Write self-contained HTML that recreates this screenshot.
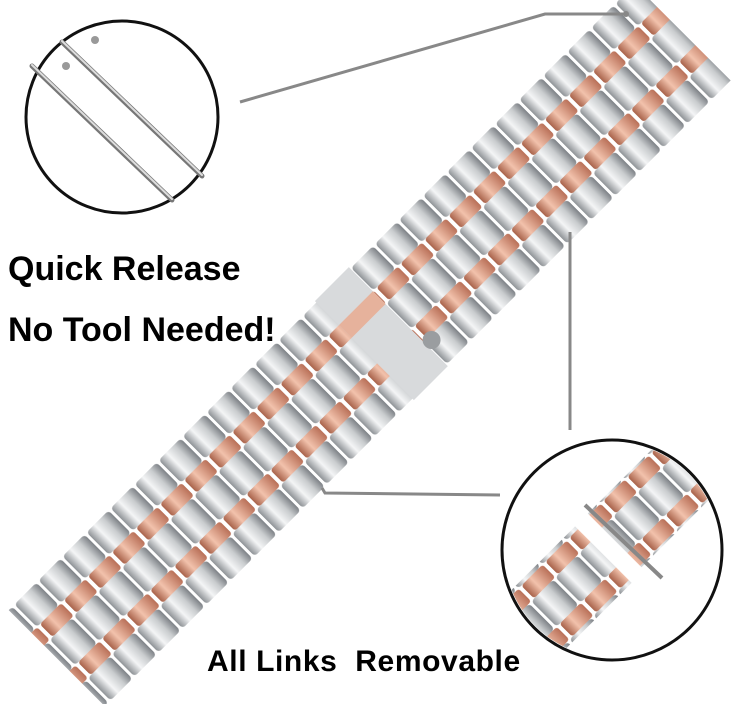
<!DOCTYPE html>
<html><head><meta charset="utf-8"><style>
html,body{margin:0;padding:0;background:#fff;}
body{width:736px;height:704px;overflow:hidden;position:relative;font-family:"Liberation Sans",sans-serif;}
.t{position:absolute;font-weight:bold;color:#000;white-space:nowrap;}
</style></head><body>
<svg width="736" height="704" style="position:absolute;left:0;top:0">
<defs>
<linearGradient id="sil" x1="0" y1="0" x2="1" y2="0">
<stop offset="0" stop-color="#8e9296"/><stop offset="0.35" stop-color="#f4f5f6"/><stop offset="0.7" stop-color="#c9ccce"/><stop offset="1" stop-color="#7d8186"/></linearGradient>
<linearGradient id="ros" x1="0" y1="0" x2="1" y2="0">
<stop offset="0" stop-color="#a8624a"/><stop offset="0.4" stop-color="#f2c2ac"/><stop offset="1" stop-color="#b97058"/></linearGradient>
<pattern id="links" width="34" height="140" patternUnits="userSpaceOnUse" x="0" y="-70">
<rect x="0" y="2" width="31" height="32" rx="4" fill="url(#sil)"/>
<rect x="4" y="34" width="30" height="18" rx="3" fill="url(#ros)"/>
<rect x="0" y="52" width="31" height="36" rx="4" fill="url(#sil)"/>
<rect x="4" y="88" width="30" height="18" rx="3" fill="url(#ros)"/>
<rect x="0" y="106" width="31" height="32" rx="4" fill="url(#sil)"/>
</pattern>
</defs>
<g transform="translate(375,340) rotate(-45)">
<rect x="-450" y="-70" width="885" height="140" fill="url(#links)"/>
<rect x="-15" y="-70" width="48" height="140" fill="#d8dadc"/>
<rect x="-15" y="-36" width="48" height="18" fill="#e6b29c"/>
<circle cx="40" cy="40" r="9" fill="#9a9da0"/>
</g>
<polyline points="240,102 545,14 625,14" fill="none" stroke="#888" stroke-width="3"/>
<circle cx="626" cy="14" r="3" fill="#888"/>
<polyline points="570,232 570,430" fill="none" stroke="#888" stroke-width="3"/>
<polyline points="322,488 325,493 500,495" fill="none" stroke="#888" stroke-width="3"/>
<circle cx="122" cy="117" r="96" fill="#fff" stroke="#111" stroke-width="3"/>
<g stroke="#777" stroke-width="5" stroke-linecap="round">
<line x1="62" y1="42" x2="202" y2="176"/>
<line x1="32" y1="66" x2="172" y2="200"/>
</g>
<g stroke="#ddd" stroke-width="2" stroke-linecap="round">
<line x1="62" y1="41" x2="202" y2="175"/>
<line x1="32" y1="65" x2="172" y2="199"/>
</g>
<circle cx="95" cy="40" r="4" fill="#999"/><circle cx="66" cy="66" r="4" fill="#999"/>
<clipPath id="cc"><circle cx="612" cy="550" r="108"/></clipPath>
<circle cx="612" cy="550" r="110" fill="#fff" stroke="#111" stroke-width="3"/>
<g clip-path="url(#cc)">
<g transform="translate(650,505) rotate(-45)">
<rect x="-50" y="-38" width="100" height="76" fill="url(#links)"/>
</g>
<g transform="translate(568,590) rotate(-45)">
<rect x="-70" y="-40" width="120" height="80" fill="url(#links)"/>
</g>
<line x1="585" y1="505" x2="662" y2="578" stroke="#888" stroke-width="4"/>
</g>
</svg>
<div class="t" style="left:8px;top:250px;font-size:34px;">Quick Release</div>
<div class="t" style="left:8px;top:311px;font-size:34px;">No Tool Needed!</div>
<div class="t" style="left:207px;top:645px;font-size:30px;letter-spacing:0.6px;">All Links&nbsp; Removable</div>
</body></html>
